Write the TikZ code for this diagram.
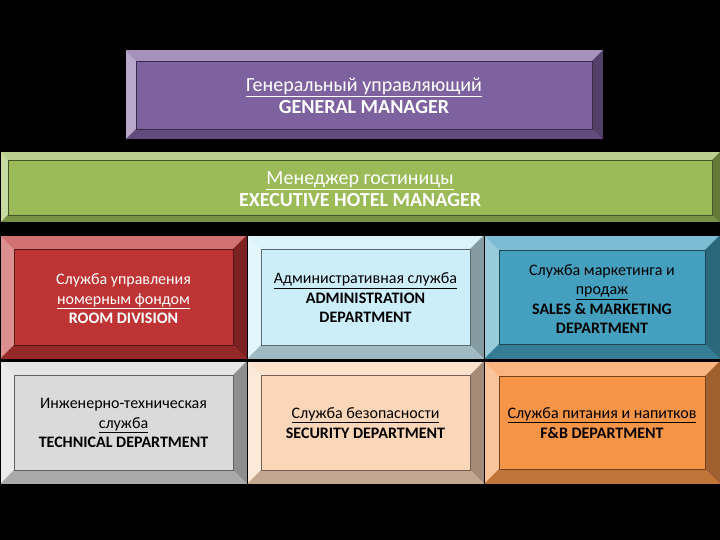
\documentclass[tikz,border=0pt]{standalone}
\usepackage{fontspec}
\setmainfont{Carlito}
\definecolor{purpleF}{RGB}{126,98,160}
\definecolor{greenF}{RGB}{155,187,89}
\definecolor{redF}{RGB}{190,52,52}
\definecolor{lblueF}{RGB}{204,238,250}
\definecolor{tealF}{RGB}{68,160,190}
\definecolor{grayF}{RGB}{218,218,218}
\definecolor{peachF}{RGB}{251,214,184}
\definecolor{orangeF}{RGB}{246,148,72}
% #1 x1, #2 y1, #3 x2, #4 y2, #5 colour, #6 bevel width
\newcommand\bevbox[6]{%
  \fill[#5] (#1,#2) rectangle (#3,#4);
  \fill[#5!70!white] (#1,#2) -- (#3,#2) -- ({#3-#6},{#2+#6}) -- ({#1+#6},{#2+#6}) -- cycle;
  \fill[#5!55!white] (#1,#2) -- ({#1+#6},{#2+#6}) -- ({#1+#6},{#4-#6}) -- (#1,#4) -- cycle;
  \fill[#5!65!black] (#3,#2) -- (#3,#4) -- ({#3-#6},{#4-#6}) -- ({#3-#6},{#2+#6}) -- cycle;
  \fill[#5!78!black] (#1,#4) -- (#3,#4) -- ({#3-#6},{#4-#6}) -- ({#1+#6},{#4-#6}) -- cycle;
  \draw[#5!45!black, line width=0.5pt] ({#1+#6},{#2+#6}) rectangle ({#3-#6},{#4-#6});
  \draw[black, line width=1pt] (#1,#2) rectangle (#3,#4);
}
\tikzset{
  big/.style={align=center, inner sep=0pt, font=\fontsize{20}{22.5}\selectfont},
  small/.style={align=center, inner sep=0pt, font=\fontsize{16}{19.5}\selectfont},
}
\begin{document}
\begin{tikzpicture}[x=1pt, y=-1pt]
  \fill[black] (0,0) rectangle (720,540);
  \useasboundingbox (0,0) rectangle (720,540);
  % boxes
  \bevbox{125}{50}{603}{140}{purpleF}{11}
  \bevbox{0}{152}{720}{223}{greenF}{8}
  \bevbox{0}{235}{247}{359}{redF}{14}
  \bevbox{247}{235}{484}{359}{lblueF}{14}
  \bevbox{484}{235}{720}{359}{tealF}{15}
  \bevbox{0}{361}{247}{484}{grayF}{14}
  \bevbox{247}{361}{484}{484}{peachF}{14}
  \bevbox{484}{361}{720}{484}{orangeF}{15}
  % texts
  \node[big, text=white] (gm) at (364,96)
    {\underline{Генеральный управляющий}\\\textbf{GENERAL MANAGER}};
  \node[big, text=white] (ehm) at (360,189)
    {\underline{Менеджер гостиницы}\\\textbf{EXECUTIVE HOTEL MANAGER}};
  \node[small, text=white] (room) at (123.5,299)
    {Служба управления\\\underline{номерным фондом}\\\textbf{ROOM DIVISION}};
  \node[small, text=black] (adm) at (365.5,298)
    {\underline{Административная служба}\\\textbf{ADMINISTRATION}\\\textbf{DEPARTMENT}};
  \node[small, text=black] (sales) at (602,299)
    {Служба маркетинга и\\\underline{продаж}\\\textbf{SALES \& MARKETING}\\\textbf{DEPARTMENT}};
  \node[small, text=black] (tech) at (123.5,423)
    {Инженерно-техническая\\\underline{служба}\\\textbf{TECHNICAL DEPARTMENT}};
  \node[small, text=black] (sec) at (365.5,423)
    {\underline{Служба безопасности}\\\textbf{SECURITY DEPARTMENT}};
  \node[small, text=black] (fb) at (602,423)
    {\underline{Служба питания и напитков}\\\textbf{F\&B DEPARTMENT}};
\end{tikzpicture}
\end{document}
